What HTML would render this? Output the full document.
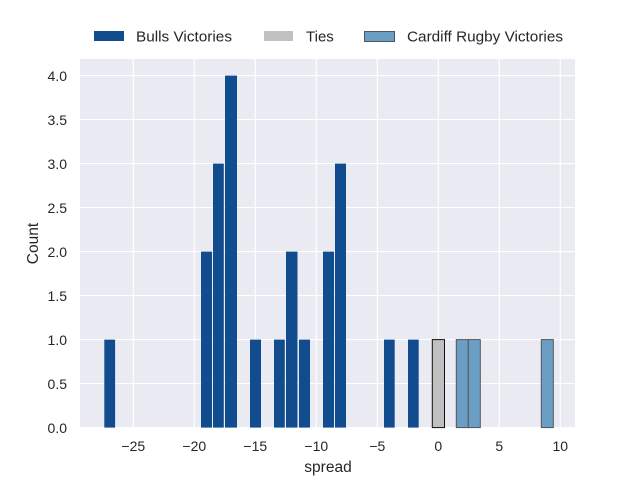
<!DOCTYPE html>
<html><head><meta charset="utf-8"><style>body{margin:0;background:#fff}svg{display:block}</style></head><body>
<svg width="640" height="480" xmlns="http://www.w3.org/2000/svg" font-family="Liberation Sans, DejaVu Sans, sans-serif" fill="#262626">
<rect x="80" y="59" width="495" height="368.6" fill="#eaeaf2"/>
<g stroke="#fff" stroke-width="1.1">
<line x1="133.3" y1="59" x2="133.3" y2="427.6"/>
<line x1="194.3" y1="59" x2="194.3" y2="427.6"/>
<line x1="255.3" y1="59" x2="255.3" y2="427.6"/>
<line x1="316.3" y1="59" x2="316.3" y2="427.6"/>
<line x1="377.3" y1="59" x2="377.3" y2="427.6"/>
<line x1="438.3" y1="59" x2="438.3" y2="427.6"/>
<line x1="499.3" y1="59" x2="499.3" y2="427.6"/>
<line x1="560.3" y1="59" x2="560.3" y2="427.6"/>
<line x1="80" y1="427.6" x2="575" y2="427.6"/>
<line x1="80" y1="383.6" x2="575" y2="383.6"/>
<line x1="80" y1="339.6" x2="575" y2="339.6"/>
<line x1="80" y1="295.6" x2="575" y2="295.6"/>
<line x1="80" y1="251.6" x2="575" y2="251.6"/>
<line x1="80" y1="207.6" x2="575" y2="207.6"/>
<line x1="80" y1="163.6" x2="575" y2="163.6"/>
<line x1="80" y1="119.6" x2="575" y2="119.6"/>
<line x1="80" y1="75.6" x2="575" y2="75.6"/>
</g>
<g fill="#114d8e">
<rect x="104.3" y="339.6" width="10.8" height="88"/>
<rect x="201" y="251.6" width="11" height="176"/>
<rect x="213" y="163.6" width="10.8" height="264"/>
<rect x="225" y="75.6" width="12" height="352"/>
<rect x="250" y="339.6" width="11" height="88"/>
<rect x="274" y="339.6" width="10.8" height="88"/>
<rect x="286" y="251.6" width="11.5" height="176"/>
<rect x="299" y="339.6" width="11" height="88"/>
<rect x="323" y="251.6" width="11" height="176"/>
<rect x="335" y="163.6" width="11" height="264"/>
<rect x="384" y="339.6" width="10.7" height="88"/>
<rect x="408" y="339.6" width="10.7" height="88"/>
</g>
<rect x="432.3" y="339.6" width="12.2" height="88" fill="#c0c0c0" stroke="#111" stroke-width="1"/>
<g fill="#6a9ec4" stroke="#555" stroke-width="1">
<rect x="456.3" y="339.6" width="12" height="88"/>
<rect x="468.3" y="339.6" width="12" height="88"/>
<rect x="541.3" y="339.6" width="12" height="88"/>
</g>
<g font-size="14" text-anchor="middle">
<text x="133.3" y="451">−25</text><text x="194.3" y="451">−20</text><text x="255.3" y="451">−15</text><text x="316.3" y="451">−10</text><text x="377.3" y="451">−5</text><text x="438.3" y="451">0</text><text x="499.3" y="451">5</text><text x="560.3" y="451">10</text>
</g>
<g font-size="14" text-anchor="end">
<text x="67" y="433">0.0</text><text x="67" y="389">0.5</text><text x="67" y="345">1.0</text><text x="67" y="301">1.5</text><text x="67" y="257">2.0</text><text x="67" y="213">2.5</text><text x="67" y="169">3.0</text><text x="67" y="125">3.5</text><text x="67" y="81">4.0</text>
</g>
<text x="328" y="472" font-size="15.5" text-anchor="middle">spread</text>
<text transform="translate(38,243.5) rotate(-90)" font-size="15.5" text-anchor="middle">Count</text>
<rect x="94" y="31" width="30" height="10" fill="#114d8e"/>
<text x="136" y="41.5" font-size="15" textLength="96" lengthAdjust="spacingAndGlyphs">Bulls Victories</text>
<rect x="264" y="31" width="29" height="10" fill="#c0c0c0"/>
<text x="306" y="41.5" font-size="15">Ties</text>
<rect x="364.5" y="31.5" width="30" height="10" fill="#6a9ec4" stroke="#555" stroke-width="1"/>
<text x="407" y="41.5" font-size="15" textLength="156" lengthAdjust="spacingAndGlyphs">Cardiff Rugby Victories</text>
</svg>
</body></html>
